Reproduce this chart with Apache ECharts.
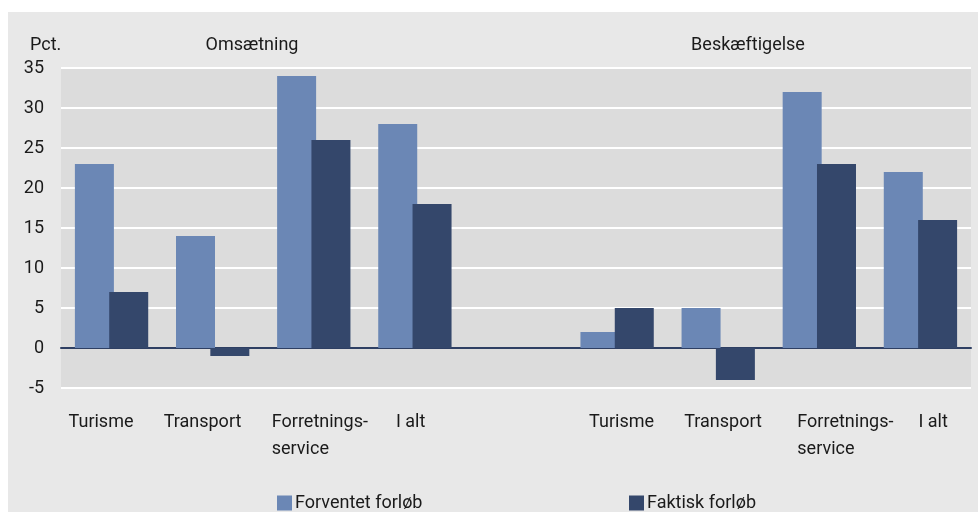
<!DOCTYPE html>
<html>
<head>
<meta charset="utf-8">
<script src="https://cdn.jsdelivr.net/npm/echarts@6/dist/echarts.min.js"></script>
<style>
html,body{margin:0;padding:0;background:#fff;}
#c{width:978px;height:512px;}
</style>
</head>
<body>
<div id="c"></div>
<script>
const categories = ['Turisme','Transport','Forretnings-\nservice','I alt','','Turisme','Transport','Forretnings-\nservice','I alt'];
const forventet = [23, 14, 34, 28, '-', 2, 5, 32, 22];
const faktisk = [7, -1, 26, 18, '-', 5, -4, 23, 16];
const seriesNames = ['Forventet forløb', 'Faktisk forløb'];
const groupTitles = ['Omsætning', 'Beskæftigelse'];
const yTicks = [-5, 0, 5, 10, 15, 20, 25, 30, 35];
const labelShift = [-43, -49, -42, -19, 0, -28, -34, -22, -2];

const FONT = 'Roboto';
const FS = 18;
const chart = echarts.init(document.getElementById('c'));
chart.setOption({
  backgroundColor: '#ffffff',
  animation: false,
  textStyle: { fontFamily: FONT },
  graphic: [{
    type: 'rect', left: 8, top: 12, z: -10,
    shape: { width: 970, height: 500 },
    style: { fill: '#e8e8e8' }, silent: true
  }],
  title: [
    { text: 'Pct.', left: 25, top: 31, textStyle: { fontFamily: FONT, fontSize: FS, fontWeight: 'normal', color: '#1a1a1a' } },
    { text: groupTitles[0], left: 247, top: 31, textAlign: 'center', textStyle: { fontFamily: FONT, fontSize: FS, fontWeight: 'normal', color: '#1a1a1a' } },
    { text: groupTitles[1], left: 743, top: 31, textAlign: 'center', textStyle: { fontFamily: FONT, fontSize: FS, fontWeight: 'normal', color: '#1a1a1a' } }
  ],
  legend: [
    { data: [seriesNames[0]], left: 272, top: 489, itemWidth: 15, itemHeight: 15, itemGap: 6,
      icon: 'rect', textStyle: { fontFamily: FONT, fontSize: FS, color: '#1a1a1a', padding: [0,0,0,-2] } },
    { data: [seriesNames[1]], left: 624, top: 489, itemWidth: 15, itemHeight: 15, itemGap: 6,
      icon: 'rect', textStyle: { fontFamily: FONT, fontSize: FS, color: '#1a1a1a', padding: [0,0,0,-2] } }
  ],
  grid: {
    left: 61, right: 7, top: 68, bottom: 124,
    show: true, backgroundColor: '#dcdcdc', borderWidth: 0
  },
  xAxis: {
    type: 'category',
    data: categories.map((c, i) => ({
      value: c,
      textStyle: { align: 'left', padding: [0, 0, 0, labelShift[i]] }
    })),
    axisLine: { show: true, onZero: true, lineStyle: { color: '#2e3f63', width: 2 } },
    axisTick: { show: false },
    axisLabel: { interval: 0, margin: 21, fontSize: FS, color: '#1a1a1a', lineHeight: 27, fontFamily: FONT }
  },
  yAxis: {
    type: 'value', min: yTicks[0], max: yTicks[yTicks.length - 1], interval: 5,
    axisLine: { show: false }, axisTick: { show: false },
    axisLabel: { fontSize: FS, color: '#1a1a1a', margin: 17, fontFamily: FONT },
    splitLine: { lineStyle: { color: '#ffffff', width: 2 } }
  },
  series: [
    { name: seriesNames[0], type: 'bar', data: forventet, barWidth: 39, barGap: '-12%',
      itemStyle: { color: '#6b87b5' } },
    { name: seriesNames[1], type: 'bar', data: faktisk, barWidth: 39, barGap: '-12%',
      itemStyle: { color: '#34476b' } }
  ]
});
</script>
</body>
</html>
